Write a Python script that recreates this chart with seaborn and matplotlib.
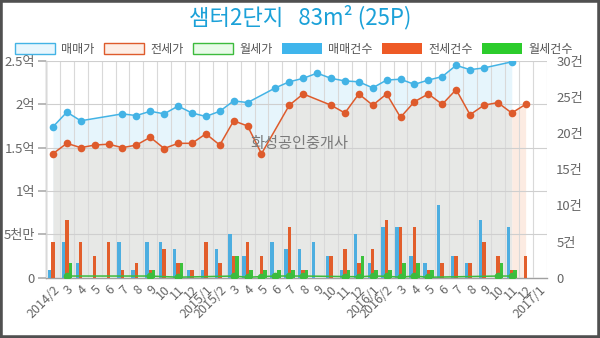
import matplotlib
matplotlib.use("Agg")
import matplotlib.pyplot as plt
import numpy as np
import pandas as pd
import seaborn as sns
from matplotlib.patches import Patch, Rectangle

# ---------------- data ----------------
months = ["2014/2", "3", "4", "5", "6", "7", "8", "9", "10", "11", "12",
          "2015/1", "2015/2", "3", "4", "5", "6", "7", "8", "9", "10", "11", "12",
          "2016/1", "2016/2", "3", "4", "5", "6", "7", "8", "9", "10", "11", "12",
          "2017/1"]

# prices in 억 (None = no deal that month)
sale_price = [1.74, 1.91, 1.81, None, None, 1.89, 1.87, 1.92, 1.89, 1.98, 1.90,
              1.86, 1.92, 2.04, 2.02, None, 2.19, 2.26, 2.30, 2.36, 2.30, 2.27,
              2.26, 2.19, 2.28, 2.29, 2.23, 2.28, 2.32, 2.45, 2.40, 2.42, None,
              2.49, None, None]
jeonse_price = [1.43, 1.55, 1.50, 1.53, 1.54, 1.50, 1.53, 1.62, 1.49, 1.55, 1.55,
                1.66, 1.53, 1.81, 1.75, 1.43, None, 1.99, 2.12, None, 1.99, 1.90,
                2.12, 1.99, 2.12, 1.85, 2.03, 2.12, 2.00, 2.17, 1.88, 1.99, 2.02,
                1.90, 2.00, None]
rent_price = [None, 0.018, None, None, None, None, None, 0.018, None, 0.005, None,
              None, None, 0.018, 0.004, 0.012, 0.018, 0.018, 0.018, None, None, 0.012,
              0.010, 0.018, 0.015, 0.005, 0.018, 0.004, None, None, None, None, 0.018,
              0.018, None, None]

# deal counts (건)
sale_cnt = [1, 5, 2, 0, 0, 5, 1, 5, 5, 4, 1, 1, 4, 6, 3, 0, 5, 4, 4, 5, 3, 1, 6, 2,
            7, 7, 3, 2, 10, 3, 2, 8, 0, 7, 0, 0]
jeonse_cnt = [5, 8, 5, 3, 5, 1, 2, 1, 4, 2, 1, 5, 2, 3, 5, 3, 0, 7, 1, 0, 3, 4, 2, 4,
              8, 7, 7, 1, 2, 3, 2, 5, 3, 1, 3, 0]
rent_cnt = [0, 2, 0, 0, 0, 0, 0, 1, 0, 2, 0, 0, 0, 3, 1, 1, 1, 1, 1, 0, 0, 1, 3, 1,
            1, 2, 2, 1, 0, 0, 0, 0, 2, 1, 0, 0]

left_ticks = [0, 0.5, 1, 1.5, 2, 2.5]
left_labels = ["0", "5천만", "1억", "1.5억", "2억", "2.5억"]
right_ticks = [0, 5, 10, 15, 20, 25, 30]
right_labels = ["0", "5건", "10건", "15건", "20건", "25건", "30건"]

title = "샘터2단지   83m² (25P)"
watermark = "화성공인중개사"
price_names = ["매매가", "전세가", "월세가"]
count_names = ["매매건수", "전세건수", "월세건수"]

# ---------------- style ----------------
sns.set_theme(style="white")
plt.rcParams['font.family'] = ['Noto Sans CJK KR', 'DejaVu Sans']

c_blue_line, c_orange_line, c_green_line = "#43b3e5", "#de5b2c", "#3dbb3d"
c_blue_bar, c_orange_bar, c_green_bar = "#4daee0", "#e25e2b", "#3cc23c"
c_blue_fill, c_gray_fill, c_peach_fill = "#e6f5fc", "#e7e8e6", "#fcebe2"
txt_gray = "#666666"

fig = plt.figure(figsize=(6, 3.38), dpi=100)
pos = [46 / 600, 1 - 277.6 / 338, 500.5 / 600, 216.6 / 338]
ax = fig.add_axes(pos)
axb = ax.twinx()
axl = fig.add_axes(pos, sharex=ax, sharey=ax)
axl.set_axis_off()
axl.patch.set_visible(False)

x = np.arange(len(months))
sale = np.array(sale_price, dtype=float)
jeon = np.array(jeonse_price, dtype=float)
rent = np.array(rent_price, dtype=float)
s_ok, j_ok, r_ok = ~np.isnan(sale), ~np.isnan(jeon), ~np.isnan(rent)

# fills
ax.fill_between(x[s_ok], sale[s_ok], color=c_blue_fill, lw=0, zorder=1)
xj, yj = x[j_ok], jeon[j_ok]
last_sale = x[s_ok].max()
ax.fill_between(xj, yj, where=xj <= last_sale, color=c_gray_fill, lw=0, zorder=2)
ax.fill_between(xj, yj, where=xj >= last_sale, color=c_peach_fill, lw=0, zorder=2)
ax.fill_between(x[r_ok], rent[r_ok], color="#e6fbe6", lw=0, zorder=2)

# bars (right axis)
df_bar = pd.DataFrame({
    "pos": list(x) * 3,
    "count": sale_cnt + jeonse_cnt + rent_cnt,
    "type": [count_names[0]] * len(x) + [count_names[1]] * len(x) + [count_names[2]] * len(x),
})
sns.barplot(data=df_bar, x="pos", y="count", hue="type", order=list(x),
            hue_order=count_names, palette=[c_blue_bar, c_orange_bar, c_green_bar],
            width=0.75, saturation=1, legend=False, errorbar=None, ax=axb,
            linewidth=0)

# lines (left scale, on top)
for arr, ok, col in [(sale, s_ok, c_blue_line), (jeon, j_ok, c_orange_line),
                     (rent, r_ok, c_green_line)]:
    sns.lineplot(x=x[ok], y=arr[ok], ax=axl, color=col, marker="o", markersize=5.5,
                 markeredgewidth=0, lw=1.1, legend=False)

# axes limits / ticks
ax.set_xlim(-0.5, len(x) - 0.5)
ax.set_ylim(0, 2.5)
axb.set_ylim(0, 30)
ax.set_yticks(left_ticks, labels=left_labels)
axb.set_yticks(right_ticks, labels=right_labels)
ax.set_xticks(x)
ax.set_xticklabels(months, rotation=45, ha="right", rotation_mode="anchor")
ax.set_xticks(np.arange(-0.5, len(x), 1.0), minor=True)
ax.set_xlabel("")
ax.set_ylabel("")
axb.set_xlabel("")
axb.set_ylabel("")

ax.set_axisbelow(False)
ax.grid(axis="y", which="major", color="#cfcfcf", lw=0.8)
ax.grid(axis="x", which="minor", color="#d9d9d9", lw=0.8)
ax.grid(axis="x", which="major", visible=False)

ax.tick_params(axis="y", length=6, color="#b0b0b0", labelcolor=txt_gray, labelsize=9.5, pad=2)
ax.tick_params(axis="x", which="major", length=0, labelcolor=txt_gray, labelsize=9, pad=4)
ax.tick_params(axis="x", which="minor", length=5, color="#c0c0c0")
axb.tick_params(axis="y", length=0, labelcolor=txt_gray, labelsize=9.5, pad=7)

for s in ["top", "right"]:
    ax.spines[s].set_visible(False)
for s in ["left", "bottom"]:
    ax.spines[s].set_color("#a0a0a0")
    ax.spines[s].set_linewidth(1)
for s in axb.spines.values():
    s.set_visible(False)

# legend
handles = [
    Patch(facecolor="#e8f6fd", edgecolor=c_blue_line, lw=1),
    Patch(facecolor="#fdeee6", edgecolor=c_orange_line, lw=1),
    Patch(facecolor="#e8fbe8", edgecolor=c_green_line, lw=1),
    Patch(facecolor="#3fb5ec", edgecolor="none"),
    Patch(facecolor="#ee5a26", edgecolor="none"),
    Patch(facecolor="#2ccc2c", edgecolor="none"),
]
leg = fig.legend(handles, price_names + count_names, loc="center",
                 bbox_to_anchor=(0.49, 1 - 49.5 / 338), ncol=6, frameon=False,
                 fontsize=8.7, handlelength=3.3, handleheight=1.0,
                 columnspacing=0.8, handletextpad=0.5, borderpad=0.1)
for t in leg.get_texts():
    t.set_color("#555555")

fig.text(0.5, 1 - 17 / 338, title, ha="center", va="center", fontsize=16,
         color="#1ba1d8")
fig.text(299 / 600, 1 - 144 / 338, watermark, ha="center", va="center",
         fontsize=11, color="#7a7a7a")

fig.add_artist(Rectangle((0, 0), 1, 1, transform=fig.transFigure, fill=False,
                         edgecolor="#505050", lw=4))

fig.savefig("out.png", dpi=100)
